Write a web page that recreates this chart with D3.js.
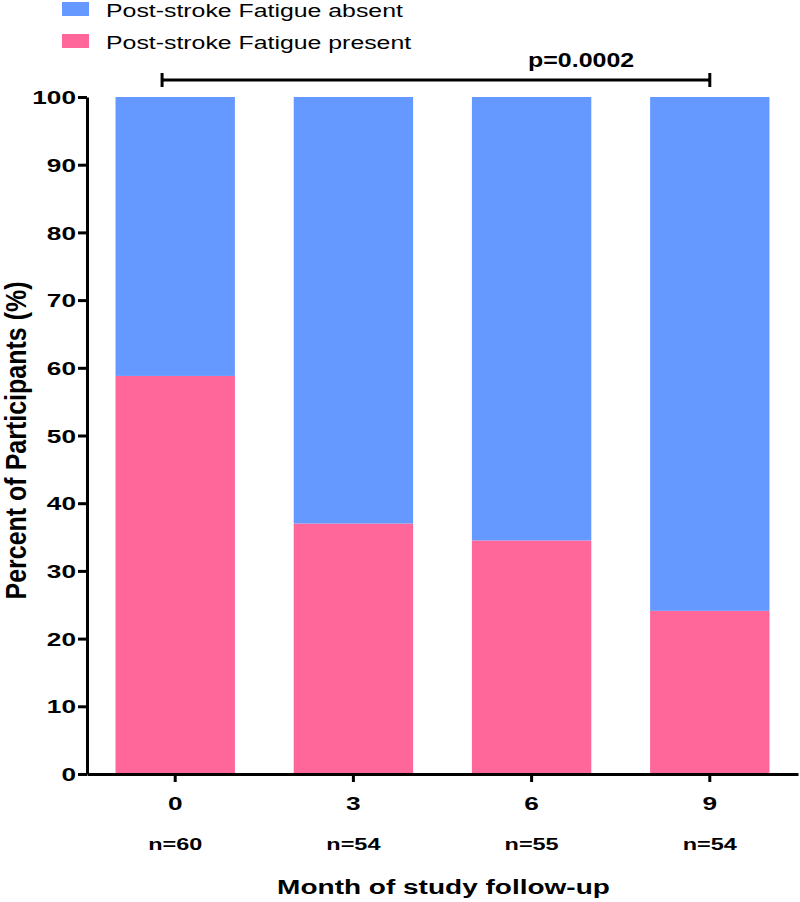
<!DOCTYPE html>
<html>
<head>
<meta charset="utf-8">
<script src="https://cdn.jsdelivr.net/npm/d3@7"></script>
<style>
  body { margin: 0; background: #fff; }
  svg { display: block; font-family: "Liberation Sans", Arial, sans-serif; }
</style>
</head>
<body>
<svg id="chart"></svg>
<script>
"use strict";

const width = 800
const height = 902

// data
const months = ["0", "3", "6", "9"]
const nCounts = [60, 54, 55, 54]
const fatiguePresent = [58.8, 37.0, 34.5, 24.1]
const fatigueAbsent = [41.2, 63.0, 65.5, 75.9]
const yTicks = [0, 10, 20, 30, 40, 50, 60, 70, 80, 90, 100]
const seriesNames = ["Post-stroke Fatigue present", "Post-stroke Fatigue absent"]
const pValue = "p=0.0002"

const colors = new Map()
    .set("Post-stroke Fatigue absent", "#6699FF")
    .set("Post-stroke Fatigue present", "#FF6699")

// the original picture is stretched sideways, text too
const sx = 1.38

const margin = { top: 97, right: 2, bottom: 128, left: 87 }

const svg = d3.select("#chart")
    .attr("width", width)
    .attr("height", height)

const x = d3.scaleBand()
    .domain(months)
    .range([margin.left, width - margin.right])
    .paddingInner(0.33)
    .paddingOuter(0.16)

const y = d3.scaleLinear()
    .domain([0, 100])
    .range([height - margin.bottom, margin.top])

const rows = months.map((m, i) => ({
    month: m,
    "Post-stroke Fatigue present": fatiguePresent[i],
    "Post-stroke Fatigue absent": fatigueAbsent[i]
}))

const stacked = d3.stack().keys(seriesNames)(rows)

// bars
svg.append("g")
    .selectAll("g")
    .data(stacked)
    .join("g")
    .attr("fill", d => colors.get(d.key))
    .selectAll("rect")
    .data(d => d)
    .join("rect")
    .attr("x", d => x(d.data.month))
    .attr("width", x.bandwidth())
    .attr("y", d => y(d[1]))
    .attr("height", d => y(d[0]) - y(d[1]))

// y axis
const yAxis = svg.append("g")
    .attr("transform", `translate(${margin.left},0)`)
    .call(d3.axisLeft(y).tickValues(yTicks).tickSize(9).tickSizeOuter(0))

yAxis.select(".domain").attr("stroke-width", 3)
yAxis.selectAll(".tick line").attr("stroke-width", 3)
yAxis.selectAll(".tick text")
    .attr("x", null)
    .attr("dy", "0.35em")
    .attr("transform", `translate(-11,0) scale(${sx},1)`)
    .attr("font-size", 19)
    .attr("font-weight", "bold")
    .attr("fill", "#000")

// x axis
const xAxis = svg.append("g")
    .attr("transform", `translate(0,${y(0)})`)
    .call(d3.axisBottom(x).tickSize(8).tickSizeOuter(0))

xAxis.select(".domain").attr("stroke-width", 3)
xAxis.selectAll(".tick line").attr("stroke-width", 3)
xAxis.selectAll(".tick text")
    .attr("y", null)
    .attr("dy", null)
    .attr("transform", `translate(0,36) scale(${sx},1)`)
    .attr("font-size", 19)
    .attr("font-weight", "bold")
    .attr("fill", "#000")

// sample sizes under the ticks
svg.append("g")
    .selectAll("text")
    .data(months)
    .join("text")
    .attr("transform", d => `translate(${x(d) + x.bandwidth() / 2},${y(0) + 76}) scale(${sx},1)`)
    .attr("text-anchor", "middle")
    .attr("font-size", 17)
    .attr("font-weight", "bold")
    .text((d, i) => "n=" + nCounts[i])

// axis titles
svg.append("text")
    .attr("transform", `translate(${(margin.left + width) / 2},${height - 8}) scale(1.4,1)`)
    .attr("text-anchor", "middle")
    .attr("font-size", 20)
    .attr("font-weight", "bold")
    .text("Month of study follow-up")

svg.append("text")
    .attr("transform", `translate(26,${(y(0) + y(100)) / 2 + 5}) scale(1.2,1) rotate(-90)`)
    .attr("text-anchor", "middle")
    .attr("font-size", 25)
    .attr("font-weight", "bold")
    .text("Percent of Participants (%)")

// significance bracket between month 0 and month 9
const bx0 = x(months[0]) + x.bandwidth() * 0.39
const bx1 = x(months[3]) + x.bandwidth() / 2
const by = y(100) - 17
const bracket = svg.append("g").attr("stroke", "#000").attr("stroke-width", 3)
bracket.append("line").attr("x1", bx0).attr("x2", bx1).attr("y1", by).attr("y2", by)
bracket.append("line").attr("x1", bx0).attr("x2", bx0).attr("y1", by - 7).attr("y2", by + 7)
bracket.append("line").attr("x1", bx1).attr("x2", bx1).attr("y1", by - 7).attr("y2", by + 7)

svg.append("text")
    .attr("transform", `translate(${x(months[3]) - 69},${by - 13}) scale(1.28,1)`)
    .attr("text-anchor", "middle")
    .attr("font-size", 19.5)
    .attr("font-weight", "bold")
    .text(pValue)

// legend (absent on top)
const legend = svg.append("g")
const legendItems = ["Post-stroke Fatigue absent", "Post-stroke Fatigue present"]
legendItems.forEach((label, i) => {
    const ly = 2 + i * 32
    legend.append("rect")
        .attr("x", 62).attr("y", ly)
        .attr("width", 27).attr("height", 14)
        .attr("fill", colors.get(label))
    legend.append("text")
        .attr("transform", `translate(106,${ly + 15}) scale(1.42,1)`)
        .attr("font-size", 17.5)
        .text(label)
})
</script>
</body>
</html>
